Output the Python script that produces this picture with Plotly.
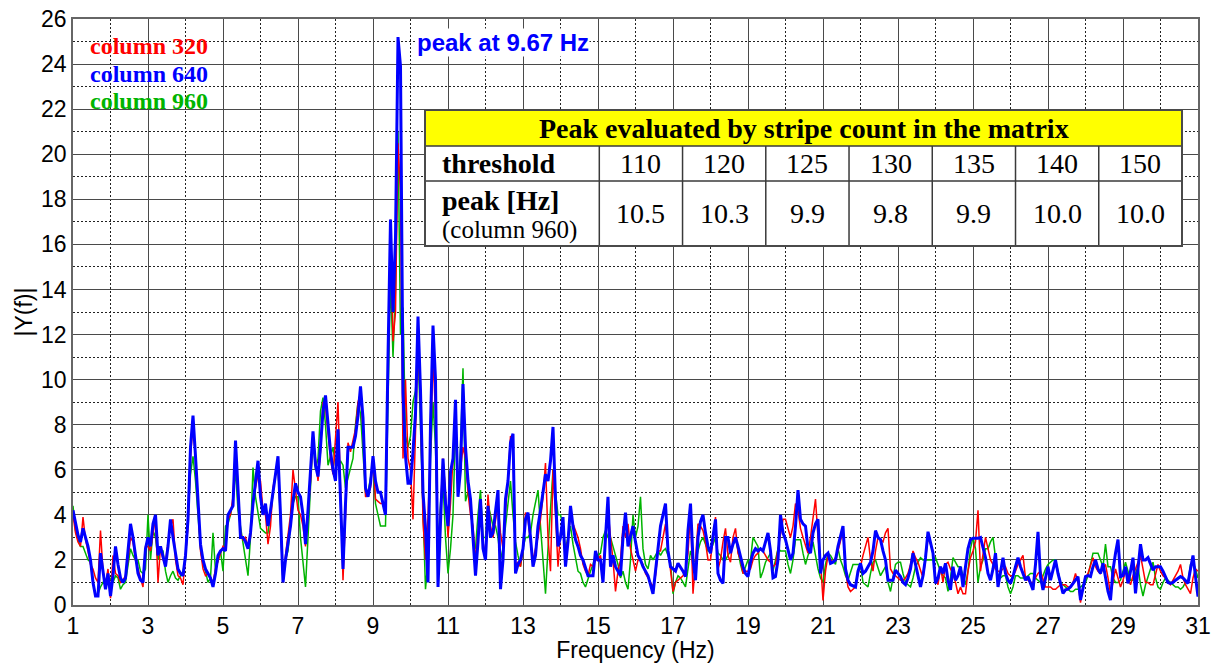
import numpy as np
import plotly.graph_objects as go

# Spectrum |Y(f)| of three image columns, bins every 1/15 Hz from 1 Hz to 31 Hz
F_START = 1.0
BIN_HZ = 1.0 / 15.0

col320 = [
    4.0, 3.2, 2.8, 2.6, 3.9, 2.9, 2.4, 1.8, 1.6, 1.2, 1.0, 3.3, 1.5, 0.9, 1.6,
    0.3, 2.2, 1.4, 1.3, 1.0, 1.1, 1.3, 2.0, 3.0, 2.8, 2.0, 1.6, 1.2, 0.8, 2.6,
    2.6, 2.4, 3.2, 3.9, 1.0, 2.6, 2.0, 1.9, 2.8, 3.5, 3.8, 2.0, 1.3, 1.2, 0.9,
    2.4, 3.5, 6.6, 8.0, 6.5, 4.2, 2.4, 1.6, 1.3, 1.4, 1.2, 1.0, 1.6, 2.0, 2.3,
    2.6, 2.5, 3.8, 4.0, 4.8, 7.0, 5.2, 3.2, 2.9, 3.0, 2.6, 3.0, 4.6, 5.2, 5.8,
    5.5, 4.2, 4.0, 2.7, 3.5, 5.2, 5.8, 6.2, 3.8, 1.0, 2.2, 3.0, 4.0, 6.0, 5.0,
    4.2, 4.0, 3.5, 2.6, 4.0, 5.5, 7.5, 6.5, 5.5, 6.8, 9.0, 8.8, 7.6, 6.5, 5.8,
    7.5, 9.0, 5.2, 1.1, 4.0, 7.2, 6.8, 7.3, 7.8, 9.0, 9.4, 7.8, 4.8, 4.9, 5.2,
    6.6, 4.7, 4.6, 4.5, 4.5, 4.3, 10.5, 17.1, 11.7, 13.0, 20.5, 18.3, 6.5, 10.0, 6.5,
    6.0, 3.8, 8.0, 11.5, 9.0, 3.7, 2.0, 3.9, 7.0, 11.0, 8.5, 1.5, 4.2, 6.5, 5.0,
    3.0, 4.5, 6.5, 8.5, 5.0, 6.0, 7.0, 6.5, 5.0, 4.0, 3.5, 2.0, 3.0, 4.3, 2.8,
    2.2, 4.9, 3.5, 3.0, 3.8, 4.5, 3.2, 2.5, 4.2, 5.5, 7.5, 7.0, 1.8, 1.9, 1.7,
    2.5, 4.1, 3.8, 2.8, 2.0, 2.5, 3.0, 3.8, 4.8, 6.3, 3.0, 1.5, 6.0, 4.0, 1.7,
    3.2, 3.5, 2.0, 3.0, 4.0, 3.6, 3.3, 3.0, 2.5, 1.8, 1.5, 1.3, 1.8, 1.7, 2.0,
    2.0, 2.2, 1.2, 3.0, 4.2, 3.0, 2.0, 0.6, 1.5, 2.0, 3.5, 3.0, 3.6, 2.5, 2.0,
    1.5, 2.0, 2.0, 1.8, 1.4, 1.2, 1.0, 0.8, 1.3, 2.4, 2.4, 3.0, 3.6, 2.5, 1.5,
    0.6, 1.0, 1.1, 1.2, 1.3, 1.5, 2.3, 4.2, 0.5, 2.0, 3.6, 3.5, 3.3, 2.8, 2.0,
    2.0, 3.0, 3.9, 1.6, 2.0, 2.8, 3.4, 2.2, 1.9, 3.0, 3.4, 2.3, 2.0, 1.4, 1.5,
    1.5, 1.6, 2.0, 2.2, 2.3, 2.5, 2.4, 2.2, 2.0, 1.9, 1.7, 1.8, 2.5, 3.3, 3.8,
    3.8, 3.4, 3.0, 3.5, 4.5, 4.2, 3.4, 3.0, 2.6, 2.3, 3.0, 4.0, 4.7, 3.0, 2.0,
    0.2, 1.5, 2.2, 2.0, 1.9, 2.1, 2.4, 2.8, 3.3, 1.5, 0.8, 0.6, 0.7, 0.8, 1.4,
    1.7, 2.2, 2.6, 3.0, 2.0, 1.5, 2.4, 3.0, 2.9, 2.8, 3.2, 3.4, 1.6, 1.4, 1.3,
    1.2, 1.1, 1.1, 1.2, 1.4, 1.8, 2.4, 2.1, 1.9, 1.5, 1.2, 2.0, 3.0, 2.7, 2.4,
    1.2, 0.9, 1.7, 1.0, 1.8, 1.9, 1.6, 1.4, 1.0, 0.5, 0.8, 0.5, 0.5, 1.5, 2.1,
    2.4, 2.8, 4.2, 1.5, 2.2, 3.0, 2.5, 2.0, 1.8, 1.6, 1.5, 1.5, 1.6, 1.7, 1.4,
    1.3, 1.3, 1.5, 1.8, 2.0, 2.2, 1.2, 1.1, 1.0, 1.0, 1.2, 1.4, 1.5, 1.1, 0.8,
    0.8, 0.8, 0.7, 0.7, 0.8, 0.9, 0.9, 0.9, 0.8, 0.8, 1.0, 1.4, 1.0, 0.1, 0.8,
    1.2, 1.4, 1.8, 2.1, 1.7, 1.5, 1.4, 1.6, 1.8, 1.2, 0.5, 1.0, 1.6, 1.2, 0.8,
    1.1, 1.5, 1.2, 0.9, 1.3, 1.6, 1.9, 2.2, 1.6, 1.0, 1.0, 0.9, 0.9, 1.3, 1.8,
    1.5, 1.3, 1.2, 1.0, 0.9, 1.1, 1.3, 1.5, 1.8, 1.2, 0.9, 0.7, 0.5, 1.2, 1.6, 1.5,
]

col640 = [
    4.2, 3.6, 3.1, 2.8, 3.4, 3.0, 2.6, 2.0, 1.0, 0.4, 0.4, 2.3, 1.5, 0.7, 1.4,
    0.4, 1.3, 2.6, 1.8, 1.2, 1.0, 1.2, 2.4, 3.6, 3.0, 2.2, 1.4, 1.1, 1.0, 2.5,
    3.0, 2.6, 3.6, 4.0, 2.2, 2.6, 2.2, 1.7, 2.6, 3.8, 3.0, 2.2, 1.6, 1.4, 1.3,
    2.2, 3.8, 7.0, 8.4, 6.6, 4.5, 2.7, 2.0, 1.6, 1.4, 1.2, 0.8, 1.4, 2.2, 2.4,
    2.5, 2.4, 4.0, 4.2, 4.4, 7.3, 5.0, 3.0, 3.0, 2.8, 2.5, 3.2, 4.5, 5.5, 6.4,
    4.8, 4.0, 4.5, 3.5, 4.2, 5.0, 6.0, 6.6, 4.0, 1.0, 2.0, 2.8, 3.5, 4.6, 5.4,
    5.0, 4.8, 4.0, 2.7, 4.2, 6.0, 7.7, 6.2, 5.7, 7.0, 8.6, 9.3, 8.0, 6.8, 6.0,
    5.5, 7.8, 5.0, 1.6, 4.5, 7.0, 7.0, 7.0, 7.5, 8.4, 9.7, 8.3, 5.2, 4.8, 5.4,
    6.6, 5.5, 5.0, 5.0, 4.5, 4.0, 11.0, 17.1, 13.0, 16.3, 25.2, 23.9, 9.4, 6.6, 5.4,
    5.4, 6.8, 8.5, 12.8, 9.5, 5.0, 3.4, 1.0, 8.0, 12.4, 10.0, 0.8, 4.0, 6.5, 4.5,
    3.5, 5.9, 6.5, 9.1, 4.8, 6.0, 9.8, 7.0, 5.5, 4.7, 3.2, 1.3, 2.8, 4.7, 2.5,
    2.0, 4.4, 3.0, 3.2, 4.2, 5.1, 0.7, 2.0, 4.7, 5.5, 7.2, 7.6, 1.4, 1.8, 2.0,
    2.5, 3.8, 4.1, 3.0, 1.7, 2.2, 3.5, 4.2, 5.0, 5.8, 5.5, 6.4, 7.9, 4.7, 2.6,
    3.0, 3.9, 1.7, 2.8, 4.4, 3.5, 2.9, 2.6, 2.2, 2.0, 1.6, 1.3, 1.3, 1.3, 2.4,
    2.0, 2.0, 1.0, 3.0, 4.8, 1.7, 2.2, 1.7, 1.5, 1.3, 3.0, 4.1, 2.6, 3.0, 3.5,
    2.8, 2.2, 2.0, 1.7, 1.5, 1.3, 0.9, 0.5, 1.5, 2.6, 3.5, 4.0, 4.5, 2.4, 1.7,
    1.6, 1.5, 1.85, 1.7, 1.5, 1.26, 3.3, 4.5, 2.0, 1.1, 3.0, 3.7, 4.0, 3.2, 2.6,
    2.3, 3.0, 3.8, 1.4, 1.1, 0.96, 3.0, 3.0, 2.3, 2.7, 3.0, 2.6, 2.1, 1.7, 1.4,
    1.26, 1.9, 2.3, 2.5, 2.4, 2.5, 2.4, 2.8, 3.2, 2.4, 1.2, 1.26, 2.0, 4.0, 3.2,
    2.9, 2.4, 2.0, 2.3, 3.5, 5.1, 3.8, 3.6, 3.5, 2.5, 2.3, 3.2, 3.6, 3.8, 1.4,
    2.0, 2.2, 2.3, 1.85, 1.9, 2.0, 2.6, 3.0, 3.5, 1.6, 1.1, 0.9, 0.85, 0.8, 1.5,
    1.85, 1.4, 1.5, 1.7, 1.9, 2.4, 3.3, 3.0, 2.9, 2.4, 2.0, 1.1, 1.1, 1.1, 1.55,
    1.4, 1.26, 1.0, 0.9, 1.2, 1.6, 2.3, 1.8, 1.4, 0.8, 1.3, 2.1, 3.25, 2.8, 2.3,
    0.96, 1.2, 1.7, 1.4, 1.85, 1.1, 0.67, 1.7, 1.1, 1.3, 1.7, 0.8, 1.7, 2.5, 2.9,
    2.96, 2.96, 2.96, 3.0, 2.5, 2.1, 1.4, 1.1, 1.6, 2.3, 0.8, 1.5, 2.1, 1.4, 1.1,
    0.96, 1.26, 1.7, 2.1, 1.7, 1.4, 1.1, 1.26, 1.0, 0.67, 1.8, 3.25, 1.26, 0.67, 1.2,
    1.7, 1.1, 1.5, 2.0, 1.4, 0.9, 0.52, 0.67, 0.7, 0.8, 0.96, 1.1, 1.26, 0.22, 0.8,
    1.26, 1.3, 1.26, 1.7, 2.0, 1.6, 1.4, 1.85, 1.26, 0.6, 0.22, 1.55, 2.3, 2.9, 1.26,
    1.3, 1.7, 0.96, 1.5, 2.1, 0.52, 1.8, 2.7, 2.0, 2.0, 2.1, 1.8, 1.55, 1.7, 1.7,
    1.7, 1.5, 1.26, 1.0, 0.96, 1.0, 1.1, 1.2, 1.26, 1.2, 1.1, 0.96, 1.6, 2.2, 1.26, 0.37,
]

col960 = [
    4.4, 3.3, 2.9, 2.6, 2.6, 2.3, 2.0, 1.9, 1.0, 0.4, 0.5, 0.8, 1.0, 0.9, 1.0,
    1.2, 1.0, 1.3, 1.2, 0.7, 0.9, 1.0, 1.8, 2.5, 2.2, 2.0, 2.0, 1.5, 1.4, 1.6,
    4.0, 2.0, 3.3, 3.0, 2.0, 2.4, 2.4, 1.5, 1.0, 1.3, 1.5, 1.2, 1.1, 1.3, 1.5,
    2.0, 4.0, 5.8, 6.6, 5.5, 4.0, 2.5, 1.8, 1.5, 1.0, 1.2, 3.2, 1.5, 2.0, 2.4,
    1.5, 3.5, 3.6, 4.0, 4.6, 6.0, 4.2, 3.5, 2.6, 2.0, 1.3, 3.0, 6.1, 4.8, 4.0,
    3.4, 3.3, 3.2, 3.2, 4.0, 5.0, 5.8, 6.2, 3.5, 1.0, 2.0, 2.4, 3.5, 4.5, 4.8,
    4.8, 3.0, 2.0, 0.8, 3.0, 5.0, 7.4, 6.0, 6.5, 8.6, 9.2, 8.0, 6.2, 6.6, 7.0,
    6.2, 6.2, 6.4, 6.2, 5.2, 5.6, 6.0, 6.5, 8.0, 9.0, 8.5, 6.5, 5.0, 5.0, 5.6,
    6.3, 4.5, 4.0, 3.5, 3.5, 3.5, 9.0, 14.5, 11.0, 14.0, 21.0, 12.0, 13.2, 7.5, 7.0,
    7.5, 9.0, 9.5, 11.4, 8.0, 4.5, 0.7, 2.0, 6.5, 9.0, 7.0, 2.5, 4.5, 5.5, 3.0,
    1.4, 2.5, 4.0, 8.0, 5.0, 7.0, 10.5, 4.6, 5.0, 4.7, 2.8, 2.5, 4.0, 5.1, 3.0,
    3.0, 4.5, 4.0, 3.5, 3.5, 3.0, 2.0, 2.5, 3.5, 4.5, 5.5, 4.0, 2.8, 2.2, 1.7,
    2.5, 3.0, 3.0, 3.2, 4.0, 4.6, 5.1, 3.5, 2.0, 0.5, 2.5, 4.5, 6.0, 5.0, 4.0,
    4.0, 3.5, 2.5, 3.0, 3.5, 2.7, 2.0, 1.5, 1.4, 1.0, 0.8, 1.2, 1.5, 1.8, 2.2,
    2.2, 2.3, 3.0, 3.3, 3.0, 3.0, 2.6, 2.2, 1.8, 1.2, 1.5, 1.0, 0.7, 2.0, 4.0,
    3.0, 3.5, 4.8, 2.5, 1.8, 1.6, 2.2, 2.0, 2.2, 2.4, 2.2, 2.4, 2.5, 2.2, 1.9,
    0.5, 1.0, 1.3, 1.2, 1.0, 0.8, 1.6, 2.4, 2.0, 1.9, 2.4, 2.8, 3.0, 2.7, 2.4,
    2.4, 2.7, 3.0, 2.3, 2.2, 2.0, 2.0, 2.2, 2.4, 2.7, 3.0, 2.4, 1.8, 1.4, 1.7,
    2.0, 2.0, 3.0, 2.8, 2.6, 1.2, 1.5, 1.9, 2.1, 2.3, 1.5, 2.0, 2.5, 2.4, 2.4,
    2.4, 1.8, 1.4, 2.0, 2.9, 2.9, 2.9, 2.3, 1.8, 2.2, 2.5, 2.8, 2.2, 1.6, 1.2,
    1.0, 1.8, 2.3, 2.2, 2.0, 1.8, 2.5, 2.0, 1.7, 1.3, 1.1, 1.5, 1.8, 1.8, 1.8,
    1.8, 1.0, 0.9, 0.8, 1.4, 1.9, 2.0, 1.6, 1.3, 1.5, 1.7, 1.0, 0.6, 1.2, 1.8,
    1.9, 1.9, 1.4, 1.0, 0.9, 0.8, 1.2, 1.7, 1.9, 2.1, 2.0, 2.0, 2.0, 2.0, 2.0,
    2.1, 1.8, 1.5, 1.3, 1.2, 0.6, 1.2, 2.1, 1.9, 1.7, 1.7, 1.3, 0.9, 1.5, 2.5,
    3.0, 2.5, 1.0, 1.7, 2.0, 2.5, 2.5, 2.8, 3.0, 2.0, 1.2, 1.2, 1.3, 1.3, 0.8,
    0.5, 0.8, 1.3, 1.3, 1.2, 1.2, 1.2, 1.3, 1.4, 1.4, 1.2, 1.1, 1.0, 1.3, 1.6,
    1.8, 1.9, 2.0, 2.0, 1.5, 1.0, 0.9, 0.8, 0.7, 0.6, 0.6, 0.7, 0.7, 0.8, 0.9,
    1.0, 1.3, 1.8, 2.3, 2.3, 2.3, 2.0, 1.7, 2.7, 1.7, 1.7, 1.2, 1.0, 1.0, 1.1,
    1.5, 1.9, 1.5, 1.1, 1.1, 1.4, 1.7, 0.9, 0.4, 0.9, 1.3, 1.6, 1.9, 1.2, 0.8,
    0.7, 1.0, 1.2, 1.1, 1.0, 0.9, 0.8, 0.8, 0.7, 0.8, 1.0, 1.0, 1.8, 1.9, 1.6, 1.2,
]

# Stripe-count peak estimates for column 960
thresholds = [110, 120, 125, 130, 135, 140, 150]
peaks_hz = [10.5, 10.3, 9.9, 9.8, 9.9, 10.0, 10.0]
peak_freq = 9.67

freq = F_START + BIN_HZ * np.arange(len(col640))

W, H = 1218, 663
ML, MR, MT, MB = 73, 20, 19, 58
PW, PH = W - ML - MR, H - MT - MB


def px(x):
    return (x - ML) / PW


def py(y):
    return 1 - (y - MT) / PH


SERIF = "Liberation Serif"
SANS = "Liberation Sans"
RED, BLUE, GREEN = "#FF0000", "#0000FF", "#00B400"

fig = go.Figure()
for name, vals, color, width in [
    ("column 960", col960, GREEN, 1.5),
    ("column 320", col320, RED, 1.5),
    ("column 640", col640, BLUE, 3),
]:
    fig.add_trace(go.Scatter(x=freq, y=vals, mode="lines", name=name,
                             line=dict(color=color, width=width)))

shapes = []
annotations = []

# label block in the upper-left corner
shapes.append(dict(type="rect", xref="paper", yref="paper", layer="between",
                   x0=px(ML + 1), x1=px(215), y0=py(117), y1=py(33),
                   fillcolor="white", line=dict(width=0)))
for text, color, yc in [("column 320", RED, 46), ("column 640", BLUE, 73.5),
                        ("column 960", GREEN, 101)]:
    annotations.append(dict(text=f"<b>{text}</b>", xref="paper", yref="paper",
                            x=px(88), y=py(yc), xanchor="left", yanchor="middle",
                            showarrow=False, font=dict(family=SERIF, size=24, color=color)))

annotations.append(dict(text=f"<b>peak at {peak_freq:.2f} Hz</b>", xref="paper", yref="paper",
                        x=px(416), y=py(43), xanchor="left", yanchor="middle",
                        showarrow=False, bgcolor="white", borderpad=0,
                        font=dict(family=SANS, size=24, color=BLUE)))

# table of stripe-count estimates
tx0, tx1 = 425, 1182
ty0, ty1, ty2, ty3 = 110, 146, 181, 246
cx0 = 599.3
cw = (tx1 - cx0) / len(thresholds)
grid_line = dict(color="#3a3a3a", width=1.5)
shapes.append(dict(type="rect", xref="paper", yref="paper", layer="above",
                   x0=px(tx0), x1=px(tx1), y0=py(ty3), y1=py(ty0),
                   fillcolor="white", line=dict(width=0)))
shapes.append(dict(type="rect", xref="paper", yref="paper", layer="above",
                   x0=px(tx0), x1=px(tx1), y0=py(ty1), y1=py(ty0),
                   fillcolor="#FFFF00", line=dict(width=0)))
for yy in (ty1, ty2):
    shapes.append(dict(type="line", xref="paper", yref="paper", layer="above",
                       x0=px(tx0), x1=px(tx1), y0=py(yy), y1=py(yy), line=grid_line))
for i in range(len(thresholds)):
    xx = cx0 + i * cw
    shapes.append(dict(type="line", xref="paper", yref="paper", layer="above",
                       x0=px(xx), x1=px(xx), y0=py(ty1), y1=py(ty3), line=grid_line))
shapes.append(dict(type="rect", xref="paper", yref="paper", layer="above",
                   x0=px(tx0), x1=px(tx1), y0=py(ty3), y1=py(ty0),
                   line=dict(color="#4a4a4a", width=2)))

annotations.append(dict(text="<b>Peak evaluated by stripe count in the matrix</b>",
                        xref="paper", yref="paper", x=px((tx0 + tx1) / 2), y=py((ty0 + ty1) / 2),
                        xanchor="center", yanchor="middle", showarrow=False,
                        font=dict(family=SERIF, size=28, color="black")))
annotations.append(dict(text="<b>threshold</b>", xref="paper", yref="paper",
                        x=px(440), y=py((ty1 + ty2) / 2), xanchor="left", yanchor="middle",
                        showarrow=False, font=dict(family=SERIF, size=28, color="black")))
annotations.append(dict(text="<b>peak [Hz]</b>", xref="paper", yref="paper",
                        x=px(440), y=py(200), xanchor="left", yanchor="middle",
                        showarrow=False, font=dict(family=SERIF, size=28, color="black")))
annotations.append(dict(text="(column 960)", xref="paper", yref="paper",
                        x=px(440), y=py(230), xanchor="left", yanchor="middle",
                        showarrow=False, font=dict(family=SERIF, size=25, color="black")))
for i, (thr, pk) in enumerate(zip(thresholds, peaks_hz)):
    xc = cx0 + (i + 0.5) * cw
    annotations.append(dict(text=str(thr), xref="paper", yref="paper",
                            x=px(xc), y=py((ty1 + ty2) / 2), xanchor="center", yanchor="middle",
                            showarrow=False, font=dict(family=SERIF, size=28, color="black")))
    annotations.append(dict(text=f"{pk:.1f}", xref="paper", yref="paper",
                            x=px(xc), y=py((ty2 + ty3) / 2), xanchor="center", yanchor="middle",
                            showarrow=False, font=dict(family=SERIF, size=28, color="black")))

axis_common = dict(
    showgrid=True, gridcolor="#4a4a4a", gridwidth=1,
    showline=True, mirror=True, linecolor="#666666", linewidth=1.5,
    zeroline=False, ticks="", tickfont=dict(family=SANS, size=23, color="black"),
)

fig.update_layout(
    width=W, height=H,
    margin=dict(l=ML, r=MR, t=MT, b=MB, autoexpand=False),
    paper_bgcolor="white", plot_bgcolor="white",
    showlegend=False,
    xaxis=dict(range=[1, 31], tick0=1, dtick=2,
               minor=dict(tick0=2, dtick=2, showgrid=True, gridcolor="#222222",
                          griddash="2px,2px", gridwidth=1),
               title=dict(text="Frequency (Hz)", standoff=4,
                          font=dict(family=SANS, size=23, color="black")),
               **axis_common),
    yaxis=dict(range=[0, 26], tick0=0, dtick=2,
               minor=dict(tick0=1, dtick=2, showgrid=True, gridcolor="#222222",
                          griddash="2px,2px", gridwidth=1),
               title=dict(text="|Y(f)|", standoff=2,
                          font=dict(family=SANS, size=23, color="black")),
               **axis_common),
    shapes=shapes,
    annotations=annotations,
)

fig.write_html("out.html")
